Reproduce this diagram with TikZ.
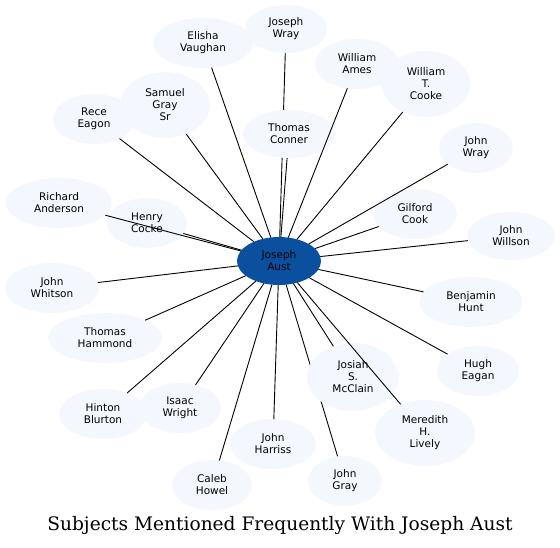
\documentclass[tikz,border=0pt]{standalone}
\usepackage{fontspec}
\usetikzlibrary{shapes.geometric,backgrounds}
\newfontfamily\dvsans{DejaVu Sans}
\newfontfamily\dvserif{DejaVu Serif}
\definecolor{pale}{RGB}{244,248,254}
\definecolor{hub}{RGB}{10,80,158}
\tikzset{
  subj/.style={ellipse, fill=pale, draw=none, inner sep=0pt, outer sep=0pt,
    align=center, font=\dvsans\fontsize{10.5}{12}\selectfont},
  hubnode/.style={subj, fill=hub},
  link/.style={line width=0.9pt, black}
}
\begin{document}
\begin{tikzpicture}[x=1pt,y=-1pt]
\useasboundingbox (0,0) rectangle (560,547);
\node[hubnode, minimum width=84, minimum height=48] (aust) at (279,261) {Joseph\\Aust};
\node[subj, minimum width=82, minimum height=48] (jwray) at (286,29) {Joseph\\Wray};
\node[subj, minimum width=100, minimum height=50] (elisha) at (203,43) {Elisha\\Vaughan};
\node[subj, minimum width=84, minimum height=50] (ames) at (357,64) {William\\Ames};
\node[subj, minimum width=88, minimum height=66] (cooke) at (426,84) {William\\T.\\Cooke};
\node[subj, minimum width=92, minimum height=48] (conner) at (289,134) {Thomas\\Conner};
\node[subj, minimum width=90, minimum height=66] (samuel) at (165,105) {Samuel\\Gray\\Sr};
\node[subj, minimum width=82, minimum height=50] (rece) at (94,119) {Rece\\Eagon};
\node[subj, minimum width=74, minimum height=50] (johnwray) at (476,148) {John\\Wray};
\node[subj, minimum width=84, minimum height=50] (gilford) at (415,214) {Gilford\\Cook};
\node[subj, minimum width=88, minimum height=48] (willson) at (511,236) {John\\Willson};
\node[subj, minimum width=106, minimum height=50] (richard) at (59,203) {Richard\\Anderson};
\node[subj, minimum width=80, minimum height=50] (henry) at (147,223) {Henry\\Cocke};
\node[subj, minimum width=94, minimum height=50] (whitson) at (52,288) {John\\Whitson};
\node[subj, minimum width=114, minimum height=50] (hammond) at (105,338) {Thomas\\Hammond};
\node[subj, minimum width=104, minimum height=50] (hunt) at (471,302) {Benjamin\\Hunt};
\node[subj, minimum width=82, minimum height=50] (hugh) at (478,371) {Hugh\\Eagan};
\node[subj, minimum width=92, minimum height=68] (josiah) at (353,377) {Josiah\\S.\\McClain};
\node[subj, minimum width=100, minimum height=66] (meredith) at (425,433) {Meredith\\H.\\Lively};
\node[subj, minimum width=88, minimum height=50] (hinton) at (103,414) {Hinton\\Blurton};
\node[subj, minimum width=82, minimum height=50] (isaac) at (180,408) {Isaac\\Wright};
\node[subj, minimum width=80, minimum height=50] (caleb) at (212,485) {Caleb\\Howel};
\node[subj, minimum width=86, minimum height=50] (harriss) at (273,444) {John\\Harriss};
\node[subj, minimum width=74, minimum height=50] (gray) at (345,481) {John\\Gray};
\begin{scope}[on background layer]
  \draw[link] (jwray) -- (aust);
  \draw[link] (gray) -- (aust);
\end{scope}
\foreach \n in {elisha,ames,cooke,conner,samuel,rece,johnwray,gilford,willson,richard,henry,whitson,hammond,hunt,hugh,josiah,meredith,hinton,isaac,caleb,harriss}
  \draw[link] (\n) -- (aust);
\node[font=\dvserif\fontsize{18.6}{20}\selectfont] (title) at (280,525) {Subjects Mentioned Frequently With Joseph Aust};
\end{tikzpicture}
\end{document}
